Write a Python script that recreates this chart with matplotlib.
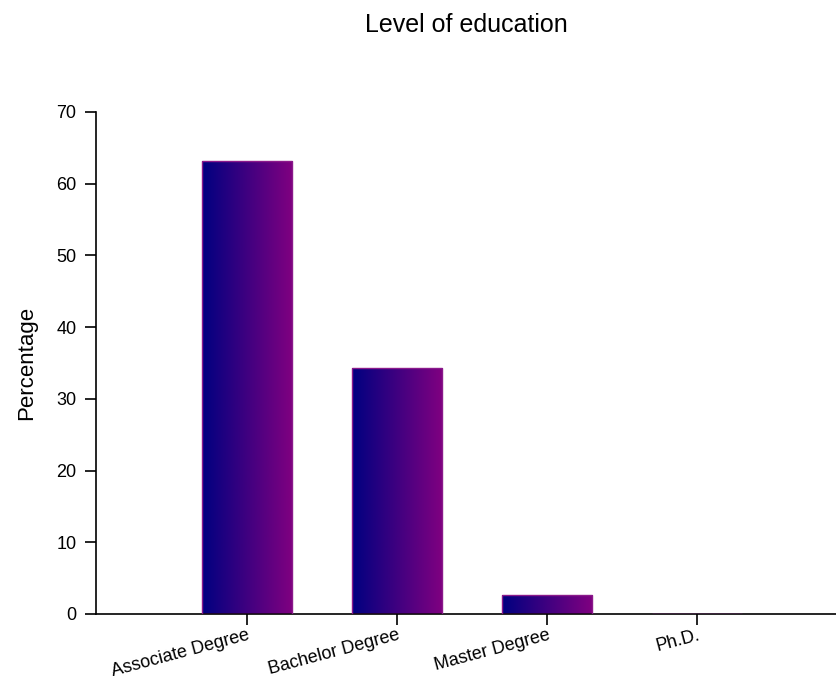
import matplotlib.pyplot as plt
import numpy as np
from matplotlib.colors import LinearSegmentedColormap

plt.rcParams['font.family'] = ['Liberation Sans', 'DejaVu Sans']

categories = ['Associate Degree', 'Bachelor Degree', 'Master Degree', 'Ph.D.']
percentages = [63.2, 34.3, 2.65, 0.0]
y_ticks = [0, 10, 20, 30, 40, 50, 60, 70]

fig = plt.figure(figsize=(8.37, 6.82), dpi=100)
ax = fig.add_axes([96 / 837, 1 - 614 / 682, 1 - 96 / 837, (614 - 112) / 682])

cmap = LinearSegmentedColormap.from_list('navy_purple', ['#000080', '#800080'])
grad = np.linspace(0, 1, 256).reshape(1, -1)

x = np.arange(len(categories))
bars = ax.bar(x, percentages, width=0.6, color='none', edgecolor='#8b1a8b', linewidth=1.0, zorder=3)
for bar in bars:
    if bar.get_height() <= 0:
        continue
    bx, by = bar.get_x(), bar.get_y()
    w, h = bar.get_width(), bar.get_height()
    im = ax.imshow(grad, cmap=cmap, aspect='auto', extent=[bx, bx + w, by, by + h], zorder=2)
    im.set_clip_path(bar)

ax.set_xlim(-1.007, 3.93)
ax.set_ylim(0, 70)
ax.set_yticks(y_ticks)
ax.set_xticks(x)
ax.set_xticklabels(categories, rotation=15, ha='right', rotation_mode='anchor', fontsize=13)
ax.tick_params(axis='y', labelsize=13, length=8, width=1.2, direction='out', pad=6)
ax.tick_params(axis='x', length=8, width=1.2, direction='out', pad=1)
for s in ['top', 'right']:
    ax.spines[s].set_visible(False)
for s in ['left', 'bottom']:
    ax.spines[s].set_linewidth(1.2)

ax.set_ylabel('Percentage', fontsize=16, labelpad=14)
fig.text((96 + 837) / 2 / 837, 1 - 25 / 682, 'Level of education', ha='center', va='center', fontsize=18)

fig.savefig('out.png', dpi=100)
